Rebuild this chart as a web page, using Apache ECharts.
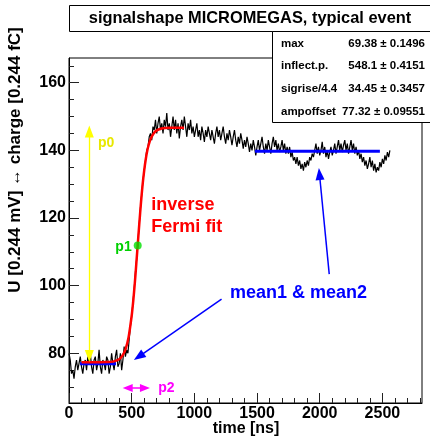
<!DOCTYPE html>
<html><head><meta charset="utf-8">
<script src="https://cdn.jsdelivr.net/npm/echarts@6/dist/echarts.min.js"></script>
<style>html,body{margin:0;padding:0;background:#fff}#c{width:430px;height:438px}</style>
</head><body><div id="c"></div>
<script>
const FONT = '"Liberation Sans", Arial, Helvetica, sans-serif';

// ---- data ----
const titleText = 'signalshape MICROMEGAS, typical event';
const xTitle = 'time [ns]';
const yTitle = 'U [0.244 mV] \u2194 charge [0.244 fC]';
const xRange = [0, 2816];
const yRange = [65.3, 167.3];
const xMajorTicks = [0, 500, 1000, 1500, 2000, 2500];
const xMinorTicks = [100, 200, 300, 400, 600, 700, 800, 900, 1100, 1200, 1300, 1400, 1600, 1700, 1800, 1900, 2100, 2200, 2300, 2400, 2600, 2700, 2800];
const yMajorTicks = [80, 100, 120, 140, 160];
const yMinorTicks = [70, 75, 85, 90, 95, 105, 110, 115, 125, 130, 135, 145, 150, 155, 165];

const sampleStartNs = 0;
const sampleStepNs = 10;
const signalValues = [
  80, 78, 74, 75, 72.5, 76, 78, 75, 77, 79,
  76, 74, 77, 78, 75, 79, 77, 80, 76, 74,
  78, 79, 75, 77, 81, 76, 74, 78, 77, 75,
  79, 78, 74, 76, 80, 77, 75, 79, 81, 76,
  77, 80, 75, 78, 82, 79, 81, 80, 84, 88,
  91, 95, 99, 104, 108, 113, 118, 123, 127, 131,
  134, 137, 140, 141, 144, 145, 143, 147, 146, 149,
  145, 148, 150, 146, 148, 145, 149, 147, 151, 146,
  148, 144, 147, 150, 146, 149, 145, 148, 143.5, 147,
  149, 146, 150, 147, 144, 148, 146, 149, 145, 147,
  144, 146, 148, 144, 146, 143, 147, 145, 142.5, 146,
  144, 147, 145, 143, 146, 144, 142, 145, 147, 144,
  146, 143, 145, 147, 144, 142, 145, 143, 146, 144,
  141.5, 144, 146, 143, 141, 144, 142, 145, 143, 140.5,
  143, 141, 144, 142, 139.5, 142, 140, 143, 141, 138.5,
  141, 143, 140, 142, 144, 141, 139, 142, 140, 143,
  141, 139, 142, 144, 141, 143, 140, 142, 139.5, 141,
  143, 140, 142, 139, 141, 139, 141, 138, 139.5, 137,
  138, 136, 138, 135.5, 137, 134.5, 136, 134, 136.5, 135,
  137, 135.5, 138, 137, 139, 138, 140, 142, 139, 141,
  138.5, 140, 142.5, 139, 141, 138, 140, 137.5, 139.5, 141,
  138.5, 140, 142, 139, 141, 143, 140, 142, 139.5, 141.5,
  143, 140, 142, 139, 141, 143, 140, 142, 139, 141,
  138.5, 140, 137.5, 139, 136.5, 138, 135.5, 137, 134.5, 136,
  138, 135, 137, 134, 136, 133.5, 135, 134, 136.5, 135,
  137.5, 136, 138.5, 137, 139.5, 138, 140
];

const fitTimes  = [100, 150, 200, 250, 300, 350, 400, 425, 450, 475, 500, 512, 525, 537, 548, 560, 575, 587, 600, 612, 625, 637, 650, 675, 700, 725, 750, 800, 850, 918];
const fitValues = [77.32, 77.32, 77.33, 77.34, 77.39, 77.54, 78.25, 79.22, 81.1, 84.7, 91.1, 95.3, 100.7, 106.5, 112.0, 117.9, 124.9, 129.8, 134.1, 137.3, 140.0, 141.8, 143.3, 145.0, 145.9, 146.3, 146.5, 146.65, 146.7, 146.7];

const mean1Times = [88, 375];
const mean1Value = 76.9;
const mean2Times = [1483, 2480];
const mean2Value = 139.7;

const p1Point = [548.1, 111.9];

const statsLabels = ['max', 'inflect.p.', 'sigrise/4.4', 'ampoffset'];
const statsValues = ['69.38 \u00b1 0.1496', '548.1 \u00b1 0.4151', '34.45 \u00b1 0.3457', '77.32 \u00b1 0.09551'];

// arrows in data coordinates: [from, to] (arrow-head centres)
const arrowP0 = [[162, 79.2], [162, 145.6]];
const arrowP2 = [[468, 69.75], [606, 69.75]];
const arrowMean1 = [[1217, 96.0], [557, 79.0]];
const arrowMean2 = [[2076, 103.4], [1998, 133.0]];

const notes = [
  { text: 'p0', t: 231, v: 142.1, color: '#e8e800', align: 'left', size: 14 },
  { text: 'p1', t: 500, v: 111.5, color: '#00d000', align: 'right', size: 14 },
  { text: 'p2', t: 712, v: 69.75, color: '#ff00ff', align: 'left', size: 14 },
  { text: 'inverse', t: 657, v: 123.8, color: '#ff0000', align: 'left', size: 18 },
  { text: 'Fermi fit', t: 657, v: 117.4, color: '#ff0000', align: 'left', size: 18 },
  { text: 'mean1 & mean2', t: 1284, v: 97.8, color: '#0000ff', align: 'left', size: 18 }
];

// ---- chart ----
const signalData = signalValues.map((v, i) => [sampleStartNs + i * sampleStepNs, v]);
const fitData = fitTimes.map((t, i) => [t, fitValues[i]]);

const chart = echarts.init(document.getElementById('c'), null, { renderer: 'canvas' });

function arrowItem(a, color, width, both, size) {
  return [
    { coord: a[0], symbol: both ? 'triangle' : 'none', symbolSize: size, lineStyle: { color, width, type: 'solid' }, itemStyle: { color } },
    { coord: a[1], symbol: 'triangle', symbolSize: size }
  ];
}

const axisBase = {
  type: 'value',
  splitLine: { show: false },
  axisLabel: { show: false },
  axisLine: { show: false }
};

chart.setOption({
  animation: false,
  backgroundColor: '#fff',
  grid: { left: 69, right: 8, top: 58, bottom: 35, show: true, borderColor: '#000', borderWidth: 1, backgroundColor: 'transparent' },
  xAxis: [
    Object.assign({}, axisBase, {
      min: xRange[0], max: xRange[1], position: 'bottom',
      axisLine: { show: true, lineStyle: { color: '#000', width: 1 } },
      axisTick: { show: true, inside: true, length: 10, customValues: xMajorTicks, lineStyle: { color: '#222', width: 1 } },
      axisLabel: { show: true, customValues: xMajorTicks, formatter: v => String(v), color: '#000', fontFamily: FONT, fontWeight: 'bold', fontSize: 16, margin: 3 }
    }),
    Object.assign({}, axisBase, {
      min: xRange[0], max: xRange[1], position: 'bottom', offset: 0,
      axisTick: { show: true, inside: true, length: 5, customValues: xMinorTicks, lineStyle: { color: '#222', width: 1 } }
    })
  ],
  yAxis: [
    Object.assign({}, axisBase, {
      min: yRange[0], max: yRange[1], position: 'left',
      axisLine: { show: true, lineStyle: { color: '#000', width: 1 } },
      axisTick: { show: true, inside: true, length: 10, customValues: yMajorTicks, lineStyle: { color: '#222', width: 1 } },
      axisLabel: { show: true, customValues: yMajorTicks, formatter: v => String(v), color: '#000', fontFamily: FONT, fontWeight: 'bold', fontSize: 16, margin: 3 }
    }),
    Object.assign({}, axisBase, {
      min: yRange[0], max: yRange[1], position: 'left', offset: 0,
      axisTick: { show: true, inside: true, length: 5, customValues: yMinorTicks, lineStyle: { color: '#222', width: 1 } }
    })
  ],
  series: [
    { type: 'line', data: signalData, showSymbol: false, symbol: 'none', lineStyle: { color: '#000', width: 1.2 }, z: 2, silent: true },
    { type: 'line', data: mean1Times.map(t => [t, mean1Value]), symbol: 'none', lineStyle: { color: '#0000ff', width: 3 }, z: 3 },
    { type: 'line', data: mean2Times.map(t => [t, mean2Value]), symbol: 'none', lineStyle: { color: '#0000ff', width: 3 }, z: 3 },
    { type: 'line', data: fitData, symbol: 'none', smooth: 0.3, lineStyle: { color: '#ff0000', width: 2.5 }, z: 4 },
    { type: 'scatter', data: [p1Point], symbol: 'circle', symbolSize: 8, itemStyle: { color: '#00e000' }, z: 5 },
    {
      type: 'line', data: [], z: 6,
      markLine: {
        silent: true, animation: false, label: { show: false },
        symbol: ['none', 'triangle'], symbolSize: [9, 12],
        data: [
          arrowItem(arrowP0, '#ffff00', 1.3, true, [9, 12]),
          arrowItem(arrowP2, '#ff00ff', 1.5, true, [8, 10]),
          arrowItem(arrowMean1, '#0000ff', 1.5, false, [9, 12]),
          arrowItem(arrowMean2, '#0000ff', 1.5, false, [9, 12])
        ]
      }
    }
  ]
});

const g = [];
notes.forEach(n => {
  const p = chart.convertToPixel({ xAxisIndex: 0, yAxisIndex: 0 }, [n.t, n.v]);
  g.push({ type: 'text', x: p[0], y: p[1], z: 50,
    style: { text: n.text, fill: n.color, font: 'bold ' + n.size + 'px ' + FONT, textAlign: n.align, align: n.align, textVerticalAlign: 'middle', verticalAlign: 'middle' } });
});
// title box
g.push({ type: 'rect', shape: { x: 69.5, y: 5.5, width: 370, height: 26 }, z: 60, style: { fill: '#fff', stroke: '#000', lineWidth: 1 } });
g.push({ type: 'text', x: 250, y: 18.5, z: 61, style: { text: titleText, fill: '#000', font: 'bold 16.4px ' + FONT, textAlign: 'center', align: 'center', textVerticalAlign: 'middle', verticalAlign: 'middle' } });
// stats box
g.push({ type: 'rect', shape: { x: 272.5, y: 31.5, width: 170, height: 91 }, z: 62, style: { fill: '#fff', stroke: '#000', lineWidth: 1 } });
statsLabels.forEach((s, i) => {
  const yy = 32 + 91 * (i + 0.5) / 4;
  g.push({ type: 'text', x: 281, y: yy, z: 63, style: { text: s, fill: '#000', font: 'bold 11.5px ' + FONT, textAlign: 'left', align: 'left', textVerticalAlign: 'middle', verticalAlign: 'middle' } });
  g.push({ type: 'text', x: 425, y: yy, z: 63, style: { text: statsValues[i], fill: '#000', font: 'bold 11.5px ' + FONT, textAlign: 'right', align: 'right', textVerticalAlign: 'middle', verticalAlign: 'middle' } });
});
// axis titles
g.push({ type: 'text', x: 246, y: 429, z: 63, style: { text: xTitle, fill: '#000', font: 'bold 16px ' + FONT, textAlign: 'center', align: 'center', textVerticalAlign: 'middle', verticalAlign: 'middle' } });
g.push({ type: 'text', x: 15, y: 160, rotation: Math.PI / 2, z: 63, style: { text: yTitle, fill: '#000', font: 'bold 17px ' + FONT, textAlign: 'center', align: 'center', textVerticalAlign: 'middle', verticalAlign: 'middle' } });

chart.setOption({ graphic: g });
</script>
</body></html>
